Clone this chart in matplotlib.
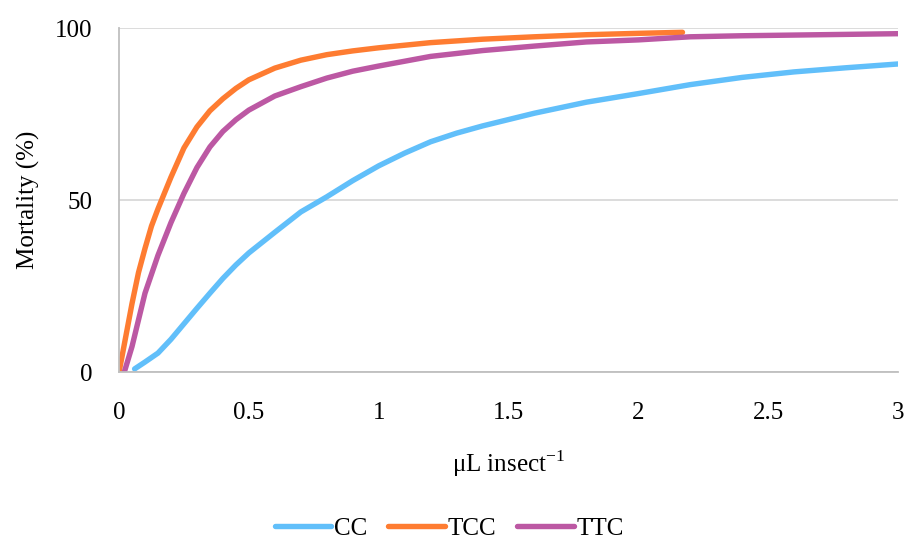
import matplotlib
matplotlib.use('Agg')
import matplotlib.pyplot as plt

# Dose-mortality curves
cc_x = [0.06, 0.1, 0.15, 0.2, 0.25, 0.3, 0.35, 0.4, 0.45, 0.5, 0.6, 0.7, 0.8,
        0.9, 1.0, 1.1, 1.2, 1.3, 1.4, 1.6, 1.8, 2.0, 2.2, 2.4, 2.6, 2.8, 3.0]
cc_y = [1, 3, 5.6, 9.6, 14.1, 18.6, 23, 27.3, 31.2, 34.7, 40.7, 46.6, 51,
        55.7, 60, 63.7, 67, 69.5, 71.6, 75.3, 78.5, 81, 83.6, 85.7, 87.3, 88.5, 89.6]

tcc_x = [0, 0.05, 0.075, 0.1, 0.125, 0.15, 0.2, 0.25, 0.3, 0.35, 0.4, 0.45, 0.5,
         0.6, 0.7, 0.8, 0.9, 1.0, 1.2, 1.4, 1.6, 1.8, 2.0, 2.17]
tcc_y = [0, 20, 29, 36, 42.5, 47.5, 56.7, 65.2, 71.3, 76, 79.5, 82.5, 85,
         88.4, 90.7, 92.3, 93.4, 94.3, 95.8, 96.8, 97.5, 98.1, 98.5, 98.8]

ttc_x = [0.02, 0.05, 0.1, 0.15, 0.2, 0.25, 0.3, 0.35, 0.4, 0.45, 0.5, 0.6, 0.7,
         0.8, 0.9, 1.0, 1.2, 1.4, 1.6, 1.8, 2.0, 2.2, 2.4, 2.6, 2.8, 3.0]
ttc_y = [0, 7.5, 23, 34, 43.5, 52, 59.5, 65.5, 70, 73.4, 76.2, 80.3, 83,
         85.5, 87.5, 89, 91.8, 93.5, 94.8, 96, 96.6, 97.5, 97.8, 98, 98.2, 98.4]

x_ticks = [0, 0.5, 1, 1.5, 2, 2.5, 3]
x_tick_labels = ['0', '0.5', '1', '1.5', '2', '2.5', '3']
y_ticks = [0, 50, 100]

plt.rcParams['font.family'] = ['Liberation Serif', 'DejaVu Serif']

fig = plt.figure(figsize=(9.1, 5.42), dpi=100)
ax = fig.add_axes([0.1308, 0.313, 0.8560, 0.635])

lw = 3.9
style = dict(lw=lw, solid_capstyle='round', solid_joinstyle='round')
ax.plot(cc_x, cc_y, color='#61BFFA', label='CC', **style)
ax.plot(tcc_x, tcc_y, color='#FE7C31', label='TCC', **style)
ax.plot(ttc_x, ttc_y, color='#BC58A3', label='TTC', **style)

ax.set_xlim(0, 3)
ax.set_ylim(0, 100)
ax.set_xticks(x_ticks)
ax.set_xticklabels(x_tick_labels)
ax.set_yticks(y_ticks)
ax.tick_params(length=0, labelsize=18, colors='#000000')
ax.tick_params(axis='x', pad=21)
ax.tick_params(axis='y', pad=19)

ax.yaxis.grid(True, color='#D9D9D9', lw=1.3)
ax.set_axisbelow(True)
for side in ['top', 'right']:
    ax.spines[side].set_visible(False)
for side in ['left', 'bottom']:
    ax.spines[side].set_color('#BFBFBF')
    ax.spines[side].set_linewidth(1.3)

ax.set_xlabel('μL insect$^{\\mathregular{−1}}$', fontsize=18, labelpad=18)
ax.set_ylabel('Mortality (%)', fontsize=18)
ax.yaxis.set_label_coords(-0.102, 0.5)

ax.legend(loc='center', bbox_to_anchor=(0.424, -0.455), ncol=3, frameon=False,
          fontsize=18, handlelength=2.25, handletextpad=0.12, columnspacing=0.85)

fig.savefig('out.png', dpi=100)
